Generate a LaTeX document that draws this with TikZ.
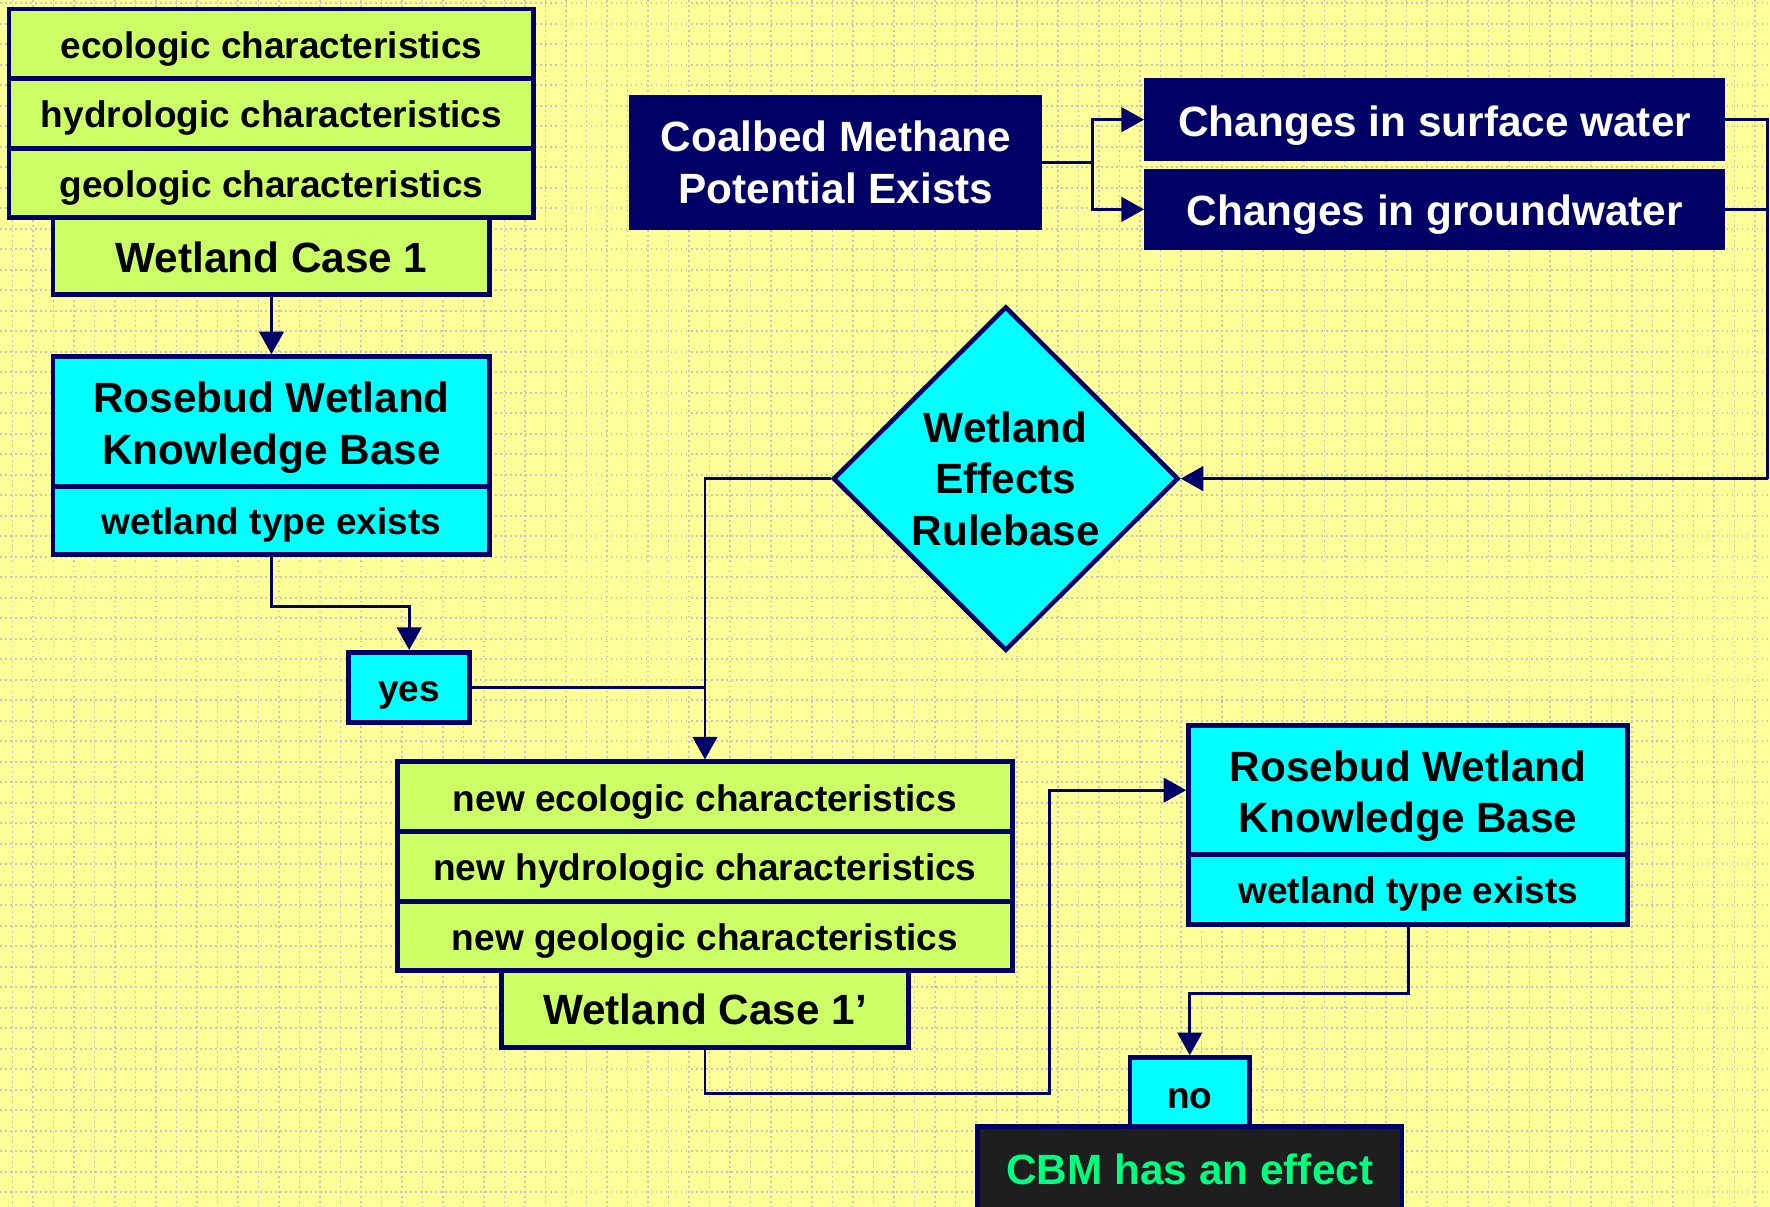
\documentclass[tikz,border=0pt]{standalone}
\usepackage{fontspec}
\setmainfont{Liberation Sans}
\usetikzlibrary{arrows.meta,shapes.geometric}
\definecolor{navy}{RGB}{0,0,102}
\definecolor{lime}{RGB}{204,255,102}
\definecolor{aqua}{RGB}{0,255,255}
\definecolor{bgyellow}{RGB}{255,255,153}
\definecolor{griddot}{RGB}{200,200,186}
\definecolor{cbmfill}{RGB}{30,30,30}
\definecolor{cbmtext}{RGB}{0,255,128}
\begin{document}
\begin{tikzpicture}[x=0.3mm,y=-0.3mm,
  base/.style={draw=navy,line width=1.3mm,inner sep=0pt,align=center,font=\bfseries\fontsize{28}{39}\selectfont},
  big/.style={font=\bfseries\fontsize{32}{39}\selectfont},
  lcell/.style={base,fill=lime},
  ccell/.style={base,fill=aqua},
  dcell/.style={base,line width=0.3mm,fill=navy,text=white,big},
  bl/.style={text height=#1,text depth=0pt},
  conn/.style={draw=navy,line width=0.75mm},
  arr/.style={conn,-{Triangle[length=6mm,width=6.5mm]}},
  gridline/.style={draw=griddot,line width=0.5mm,dash pattern=on 0.5mm off 0.83mm}
]
\fill[bgyellow] (0,0) rectangle (1568,1069);
\useasboundingbox (0,0) rectangle (1568,1069);
\foreach \i in {0,...,86} \draw[gridline] ({11.07+\i*18.16},0) -- ({11.07+\i*18.16},1069);
\foreach \j in {0,...,58} \draw[gridline] (0,{2.9+\j*18.16}) -- (1568,{2.9+\j*18.16});

% top-left stack
\node[lcell,bl=21.8pt,minimum width=139.5mm,minimum height=18.5mm] (eco) at (240.5,38.8) {ecologic characteristics};
\node[lcell,bl=21.8pt,minimum width=139.5mm,minimum height=18.5mm] (hyd) at (240.5,100.5) {hydrologic characteristics};
\node[lcell,bl=21.8pt,minimum width=139.5mm,minimum height=18.5mm] (geo) at (240.5,162.2) {geologic characteristics};
\node[lcell,big,bl=25pt,minimum width=116.1mm,minimum height=20.4mm] (case1) at (240.5,227) {Wetland Case 1};
\node[ccell,big,bl=64.2pt,minimum width=116.1mm,minimum height=34.5mm] (rose1) at (240.5,373.5) {Rosebud Wetland\\Knowledge Base};
\node[ccell,bl=21.8pt,minimum width=116.1mm,minimum height=18mm] (rose1b) at (240.5,461) {wetland type exists};
\node[ccell,bl=20.7pt,minimum width=32.1mm,minimum height=18.6mm] (yes) at (362.5,609) {yes};

% diamond
\node[diamond,draw=navy,line width=1.2mm,fill=aqua,inner sep=0pt,minimum width=91.8mm,minimum height=91.5mm,align=center,big] (dia) at (891,424) {Wetland\\Effects\\Rulebase};

% top-right
\node[dcell,minimum width=109.5mm,minimum height=35.4mm] (coal) at (740.5,144) {Coalbed Methane\\Potential Exists};
\node[dcell,bl=25pt,minimum width=154.2mm,minimum height=21.6mm] (surf) at (1271,106) {Changes in surface water};
\node[dcell,bl=25pt,minimum width=154.2mm,minimum height=21.3mm] (ground) at (1271,185.5) {Changes in groundwater};

% middle stack
\node[lcell,bl=21.8pt,minimum width=163.5mm,minimum height=18.5mm] (neweco) at (624.5,705.8) {new ecologic characteristics};
\node[lcell,bl=21.8pt,minimum width=163.5mm,minimum height=18.5mm] (newhyd) at (624.5,767.5) {new hydrologic characteristics};
\node[lcell,bl=21.8pt,minimum width=163.5mm,minimum height=18.5mm] (newgeo) at (624.5,829.2) {new geologic characteristics};
\node[lcell,big,bl=23.4pt,minimum width=108.3mm,minimum height=20.4mm] (case1p) at (624.5,894) {Wetland Case 1’};

% bottom right
\node[ccell,big,bl=64.2pt,minimum width=116.7mm,minimum height=34.2mm] (rose2) at (1247.5,700) {Rosebud Wetland\\Knowledge Base};
\node[ccell,bl=21.8pt,minimum width=116.7mm,minimum height=18.6mm] (rose2b) at (1247.5,788) {wetland type exists};
\node[ccell,bl=25.2pt,minimum width=31.8mm,minimum height=18.3mm] (no) at (1054,967.5) {no};
\node[base,big,bl=23.4pt,fill=cbmfill,text=cbmtext,minimum width=112.8mm,minimum height=22.8mm] (cbm) at (1054,1036) {CBM has an effect};

% connectors
\draw[arr] (case1.south) -- (rose1.north);
\draw[arr] (rose1b.south) -- ++(0,44) -| (yes.north);
\draw[conn] (yes.east) -- (yes.east -| neweco.north);
\draw[arr] (dia.west) -| (neweco.north);
\coordinate (k1) at (930,969);
\draw[arr] (case1p.south) |- (k1) |- (rose2.west);
\draw[arr] (rose2b.south) -- ++(0,59) -| (no.north);
\coordinate (br) at (968,144);
\draw[conn] (coal.east) -- (br);
\draw[arr] (br) |- (surf.west);
\draw[arr] (br) |- (ground.west);
\coordinate (rt) at (1566,424);
\draw[conn] (surf.east) -| (rt);
\draw[conn] (ground.east) -- (ground.east -| rt);
\draw[arr] (rt) -- (dia.east);
\end{tikzpicture}
\end{document}
